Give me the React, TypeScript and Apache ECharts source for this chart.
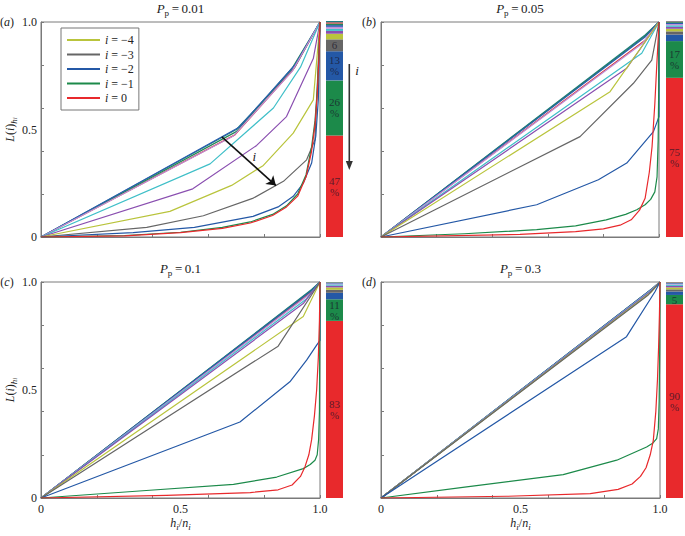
import React, { useEffect, useRef } from 'react';
import * as echarts from 'echarts';

const FONT = '"Liberation Serif", "DejaVu Serif", serif';

// classes i = 0, -1, ..., -11
const classNames = ['i=0', 'i=-1', 'i=-2', 'i=-3', 'i=-4', 'i=-5', 'i=-6', 'i=-7', 'i=-8', 'i=-9', 'i=-10', 'i=-11'];
const classColors = ['#e8292c', '#1c8a4a', '#2458a6', '#666666', '#b9c43c', '#8a4fb0', '#3fbfc8', '#c08fd8', '#2a5db0', '#23865a', '#d43a3c', '#1f7f83'];
const legendNames = ['i=-4', 'i=-3', 'i=-2', 'i=-1', 'i=0'];
const panelPp = ['0.01', '0.05', '0.1', '0.3'];
const panelLetters = ['a', 'b', 'c', 'd'];
const xTickLabels = ['0', '0.5', '1.0'];
const yTickLabels = ['0', '0.5', '1.0'];

// Lorenz curves L(i) versus h_i/n_i, one list per class (i = 0 ... -11)
const curvesA = [
  [[0, 0], [0.3, 0.005], [0.5, 0.02], [0.65, 0.04], [0.75, 0.065], [0.83, 0.1], [0.88, 0.14], [0.92, 0.19], [0.95, 0.28], [0.97, 0.4], [0.982, 0.52], [0.99, 0.66], [0.996, 0.83], [1, 1]],
  [[0, 0], [0.3, 0.007], [0.5, 0.022], [0.65, 0.045], [0.75, 0.07], [0.83, 0.105], [0.88, 0.145], [0.92, 0.2], [0.95, 0.29], [0.97, 0.42], [0.982, 0.54], [0.99, 0.68], [0.996, 0.85], [1, 1]],
  [[0, 0], [0.33, 0.02], [0.55, 0.045], [0.76, 0.096], [0.85, 0.14], [0.904, 0.189], [0.94, 0.25], [0.97, 0.344], [0.985, 0.47], [0.994, 0.64], [1, 1]],
  [[0, 0], [0.379, 0.045], [0.582, 0.099], [0.761, 0.181], [0.869, 0.259], [0.952, 0.359], [0.982, 0.452], [1, 1]],
  [[0, 0], [0.462, 0.119], [0.683, 0.24], [0.797, 0.333], [0.904, 0.483], [0.976, 0.638], [1, 1]],
  [[0, 0], [0.544, 0.224], [0.773, 0.426], [0.88, 0.56], [0.976, 0.83], [1, 1]],
  [[0, 0], [0.606, 0.34], [0.833, 0.6], [0.93, 0.79], [1, 1]],
  [[0, 0], [0.69, 0.47], [0.9, 0.77], [1, 1]],
  [[0, 0], [0.71, 0.51], [0.91, 0.8], [1, 1]],
  [[0, 0], [0.7, 0.49], [0.9, 0.785], [1, 1]],
  [[0, 0], [0.695, 0.475], [0.905, 0.78], [1, 1]],
  [[0, 0], [0.7, 0.5], [0.91, 0.79], [1, 1]],
];
const curvesB = [
  [[0, 0], [0.5, 0.012], [0.7, 0.025], [0.8, 0.038], [0.86, 0.055], [0.9, 0.08], [0.93, 0.125], [0.95, 0.18], [0.965, 0.3], [0.975, 0.42], [0.985, 0.62], [0.992, 0.8], [0.997, 0.92], [1, 1]],
  [[0, 0], [0.3, 0.015], [0.56, 0.034], [0.7, 0.052], [0.81, 0.08], [0.88, 0.105], [0.92, 0.127], [0.95, 0.15], [0.97, 0.175], [0.985, 0.21], [0.993, 0.28], [0.997, 0.45], [0.999, 0.7], [1, 1]],
  [[0, 0], [0.56, 0.15], [0.782, 0.266], [0.884, 0.344], [0.98, 0.49], [1, 0.56], [1, 1]],
  [[0, 0], [0.716, 0.467], [0.908, 0.715], [0.974, 0.823], [1, 1]],
  [[0, 0], [0.824, 0.676], [1, 1]],
  [[0, 0], [0.884, 0.785], [1, 1]],
  [[0, 0], [0.938, 0.855], [1, 1]],
  [[0, 0], [0.94, 0.9], [1, 1]],
  [[0, 0], [0.95, 0.93], [1, 1]],
  [[0, 0], [0.95, 0.935], [1, 1]],
  [[0, 0], [0.95, 0.915], [1, 1]],
  [[0, 0], [0.95, 0.94], [1, 1]],
];
const curvesC = [
  [[0, 0], [0.45, 0.012], [0.75, 0.025], [0.85, 0.038], [0.9, 0.06], [0.93, 0.1], [0.946, 0.144], [0.96, 0.2], [0.97, 0.27], [0.98, 0.38], [0.988, 0.5], [0.994, 0.65], [0.998, 0.82], [1, 1]],
  [[0, 0], [0.39, 0.036], [0.69, 0.063], [0.845, 0.097], [0.94, 0.136], [0.965, 0.155], [0.982, 0.175], [0.99, 0.2], [0.995, 0.27], [0.998, 0.4], [1, 1]],
  [[0, 0], [0.713, 0.352], [0.892, 0.538], [0.952, 0.638], [0.988, 0.708], [1, 0.73], [1, 1]],
  [[0, 0], [0.85, 0.703], [1, 1]],
  [[0, 0], [0.94, 0.84], [1, 1]],
  [[0, 0], [0.94, 0.9], [1, 1]],
  [[0, 0], [0.95, 0.92], [1, 1]],
  [[0, 0], [0.97, 0.95], [1, 1]],
  [[0, 0], [0.97, 0.96], [1, 1]],
  [[0, 0], [0.97, 0.962], [1, 1]],
  [[0, 0], [0.97, 0.955], [1, 1]],
  [[0, 0], [0.97, 0.965], [1, 1]],
];
const curvesD = [
  [[0, 0], [0.45, 0.008], [0.75, 0.02], [0.85, 0.04], [0.9, 0.065], [0.93, 0.1], [0.95, 0.14], [0.965, 0.2], [0.976, 0.267], [0.985, 0.4], [0.991, 0.55], [0.995, 0.7], [0.998, 0.85], [1, 1]],
  [[0, 0], [0.3, 0.05], [0.653, 0.108], [0.845, 0.175], [0.952, 0.236], [0.975, 0.255], [0.988, 0.275], [0.994, 0.32], [0.997, 0.45], [0.999, 0.7], [1, 1]],
  [[0, 0], [0.88, 0.747], [0.982, 0.955], [1, 1]],
  [[0, 0], [0.958, 0.94], [1, 1]],
  [[0, 0], [0.97, 0.955], [1, 1]],
  [[0, 0], [0.97, 0.96], [1, 1]],
  [[0, 0], [0.97, 0.962], [1, 1]],
  [[0, 0], [0.97, 0.964], [1, 1]],
  [[0, 0], [0.97, 0.966], [1, 1]],
  [[0, 0], [0.97, 0.967], [1, 1]],
  [[0, 0], [0.97, 0.965], [1, 1]],
  [[0, 0], [0.97, 0.968], [1, 1]],
];
const curves = [curvesA, curvesB, curvesC, curvesD];

// share (%) of each class i = 0 ... -11 in the stacked bars
const sharesA = [47, 25.5, 13.5, 5.5, 2.6, 1.3, 1.0, 0.9, 0.8, 0.7, 0.6, 0.6];
const sharesB = [73.7, 17, 3, 1.5, 1.2, 0.9, 0.7, 0.6, 0.5, 0.4, 0.3, 0.2];
const sharesC = [82, 10, 3, 1.4, 1.1, 0.8, 0.6, 0.4, 0.3, 0.2, 0.1, 0.1];
const sharesD = [89.7, 4.3, 1.6, 1.0, 0.9, 0.7, 0.6, 0.4, 0.3, 0.2, 0.2, 0.1];
const shares = [sharesA, sharesB, sharesC, sharesD];
const barLabelsA = ['47\n%', '26\n%', '13\n%', '6'];
const barLabelsB = ['75\n%', '17\n%'];
const barLabelsC = ['83\n%', '11\n%'];
const barLabelsD = ['90\n%', '5'];
const barLabels = [barLabelsA, barLabelsB, barLabelsC, barLabelsD];

// arrow annotation in panel (a)
const arrowA = [[0.648, 0.466], [0.842, 0.239]];
const arrowLabelA = [0.765, 0.375];

const lineGrids = [
  { left: 41, top: 22, width: 279, height: 215 },
  { left: 381, top: 22, width: 278, height: 215 },
  { left: 41, top: 282, width: 279, height: 216 },
  { left: 381, top: 282, width: 279, height: 216 },
];
const barGrids = [
  { left: 326, top: 21, width: 17, height: 216 },
  { left: 666, top: 21, width: 17, height: 216 },
  { left: 326, top: 282, width: 17, height: 216 },
  { left: 666, top: 282, width: 17, height: 216 },
];

const baseRich = {
  it: { fontStyle: 'italic', fontFamily: FONT, fontSize: 12, color: '#222', lineHeight: 16 },
  n: { fontFamily: FONT, fontSize: 12, color: '#222', lineHeight: 16 },
  s: { fontStyle: 'italic', fontFamily: FONT, fontSize: 9, color: '#222', lineHeight: 9, verticalAlign: 'bottom' },
  ss: { fontStyle: 'italic', fontFamily: FONT, fontSize: 7, color: '#222', lineHeight: 6, verticalAlign: 'bottom' },
};

function fmtTick(labels: string[]) {
  return (v: number) => {
    const idx = Math.round(v * 2);
    return labels[idx] ?? '';
  };
}

export default function App() {
  const ref = useRef<HTMLDivElement>(null);
  useEffect(() => {
    if (!ref.current) return;
    const chart = echarts.init(ref.current, undefined, { renderer: 'svg' });

    const grid: any[] = [];
    const xAxis: any[] = [];
    const yAxis: any[] = [];
    const series: any[] = [];

    lineGrids.forEach((g, p) => {
      grid.push({ ...g, show: true, borderColor: '#7a7a7a', borderWidth: 1, backgroundColor: 'transparent' });
      const gi = grid.length - 1;
      const showX = p >= 2;
      const showY = p % 2 === 0;
      // tick axes (every 0.2)
      xAxis.push({
        type: 'value', gridIndex: gi, min: 0, max: 1, interval: 0.2,
        axisLine: { show: true, lineStyle: { color: '#7a7a7a' } },
        axisTick: { show: true, inside: true, length: 3, lineStyle: { color: '#7a7a7a' } },
        axisLabel: { show: false }, splitLine: { show: false },
      });
      yAxis.push({
        type: 'value', gridIndex: gi, min: 0, max: 1, interval: 0.2,
        axisLine: { show: true, lineStyle: { color: '#7a7a7a' } },
        axisTick: { show: true, inside: true, length: 3, lineStyle: { color: '#7a7a7a' } },
        axisLabel: { show: false }, splitLine: { show: false },
      });
      // label axes (every 0.5)
      xAxis.push({
        type: 'value', gridIndex: gi, min: 0, max: 1, interval: 0.5, position: 'bottom',
        axisLine: { show: false }, axisTick: { show: false }, splitLine: { show: false },
        axisLabel: { show: showX, formatter: fmtTick(xTickLabels), fontFamily: FONT, fontSize: 12, color: '#222', margin: 5 },
        name: showX ? '{it|h}{s|i}{n|/}{it|n}{s|i}' : '',
        nameLocation: 'middle', nameGap: 17,
        nameTextStyle: { rich: baseRich },
      });
      yAxis.push({
        type: 'value', gridIndex: gi, min: 0, max: 1, interval: 0.5, position: 'left',
        axisLine: { show: false }, axisTick: { show: false }, splitLine: { show: false },
        axisLabel: { show: showY, formatter: fmtTick(yTickLabels), fontFamily: FONT, fontSize: 12, color: '#222', margin: 4 },
        name: showY ? '{it|L}{n|(}{it|i}{n|)}{s|h}{ss|i}' : '',
        nameLocation: 'middle', nameGap: 22, nameRotate: 90,
        nameTextStyle: { rich: baseRich },
      });
      const xi = xAxis.length - 2;
      const yi = yAxis.length - 2;
      for (let k = classNames.length - 1; k >= 0; k--) {
        const s: any = {
          type: 'line', name: classNames[k], xAxisIndex: xi, yAxisIndex: yi,
          data: curves[p][k], showSymbol: false, symbol: 'none',
          lineStyle: { width: 1.2, color: classColors[k], join: 'round' }, itemStyle: { color: classColors[k] },
          z: 3,
        };
        if (p === 0 && k === 0) {
          s.markLine = {
            silent: true, symbol: ['none', 'arrow'], symbolSize: 9,
            lineStyle: { color: '#111', width: 1.6, type: 'solid' },
            label: { show: false },
            data: [[{ coord: arrowA[0] }, { coord: arrowA[1] }]],
          };
          s.markPoint = {
            silent: true, symbol: 'circle', symbolSize: 1,
            itemStyle: { color: 'rgba(0,0,0,0)' },
            label: { show: true, formatter: 'i', position: 'inside', fontFamily: FONT, fontStyle: 'italic', fontSize: 13, color: '#222' },
            data: [{ coord: arrowLabelA, value: 'i' }],
          };
        }
        series.push(s);
      }
    });

    barGrids.forEach((g, b) => {
      grid.push({ ...g });
      const gi = grid.length - 1;
      xAxis.push({ type: 'category', gridIndex: gi, data: ['share'], show: false });
      yAxis.push({ type: 'value', gridIndex: gi, min: 0, max: 100, show: false });
      const xi = xAxis.length - 1;
      const yi = yAxis.length - 1;
      shares[b].forEach((v, k) => {
        const lab = barLabels[b][k] || '';
        series.push({
          type: 'bar', name: 'bar' + b + '-' + k, stack: 'bar' + b,
          xAxisIndex: xi, yAxisIndex: yi, data: [v], barWidth: '100%',
          itemStyle: { color: classColors[k] },
          label: {
            show: lab !== '', formatter: lab, position: 'inside',
            fontFamily: FONT, fontSize: 11, lineHeight: 11, color: 'rgba(25,20,40,0.72)',
          },
          silent: true,
        });
      });
    });

    const graphic: any[] = [];
    const titleRich = {
      P: { fontStyle: 'italic', fontFamily: FONT, fontSize: 13, lineHeight: 18, fill: '#222' },
      s: { fontFamily: FONT, fontSize: 9, lineHeight: 10, verticalAlign: 'bottom', fill: '#222' },
      t: { fontFamily: FONT, fontSize: 13, lineHeight: 18, fill: '#222' },
      n: { fontFamily: FONT, fontSize: 12, lineHeight: 16, fill: '#222' },
      it: { fontFamily: FONT, fontStyle: 'italic', fontSize: 12, lineHeight: 16, fill: '#222' },
    };
    lineGrids.forEach((g, p) => {
      graphic.push({
        type: 'text', x: g.left + g.width / 2, y: g.top - 14,
        style: { text: '{P|P}{s|p}{t|\u2009=\u20090' + panelPp[p].slice(1) + '}', rich: titleRich, align: 'center', verticalAlign: 'middle' },
      });
      graphic.push({
        type: 'text', x: p % 2 === 0 ? 7 : 369, y: g.top,
        style: { text: '{n|(}{it|' + panelLetters[p] + '}{n|)}', rich: titleRich, align: 'center', verticalAlign: 'middle' },
      });
    });
    // vertical arrow between panels (a) and (b)
    graphic.push({ type: 'line', shape: { x1: 349.3, y1: 64, x2: 349.3, y2: 163 }, style: { stroke: '#333', lineWidth: 1.6 } });
    graphic.push({ type: 'polygon', shape: { points: [[345.8, 161], [352.8, 161], [349.3, 170]] }, style: { fill: '#333' } });
    graphic.push({ type: 'text', x: 357, y: 70, style: { text: 'i', font: 'italic 13px ' + FONT, fill: '#222', align: 'center', verticalAlign: 'middle' } });

    chart.setOption({
      animation: false,
      backgroundColor: '#ffffff',
      grid, xAxis, yAxis, series, graphic,
      legend: {
        data: legendNames,
        orient: 'vertical', left: 61, top: 28,
        padding: [6, 5, 6, 6], borderColor: '#777', borderWidth: 1,
        itemGap: 2.5, itemWidth: 33, itemHeight: 2, icon: 'rect',
        selectedMode: false,
        formatter: (name: string) => '{it|i}{n| = ' + name.slice(2).replace('-', '\u2212') + '}',
        textStyle: {
          fontFamily: FONT, fontSize: 12, color: '#222', lineHeight: 12,
          rich: {
            it: { fontStyle: 'italic', fontFamily: FONT, fontSize: 12, lineHeight: 12, color: '#222' },
            n: { fontFamily: FONT, fontSize: 12, lineHeight: 12, color: '#222' },
          },
        },
      },
    });
    return () => chart.dispose();
  }, []);
  return <div ref={ref} style={{ position: 'fixed', left: 0, top: 0, width: 685, height: 536, background: '#fff' }} />;
}
